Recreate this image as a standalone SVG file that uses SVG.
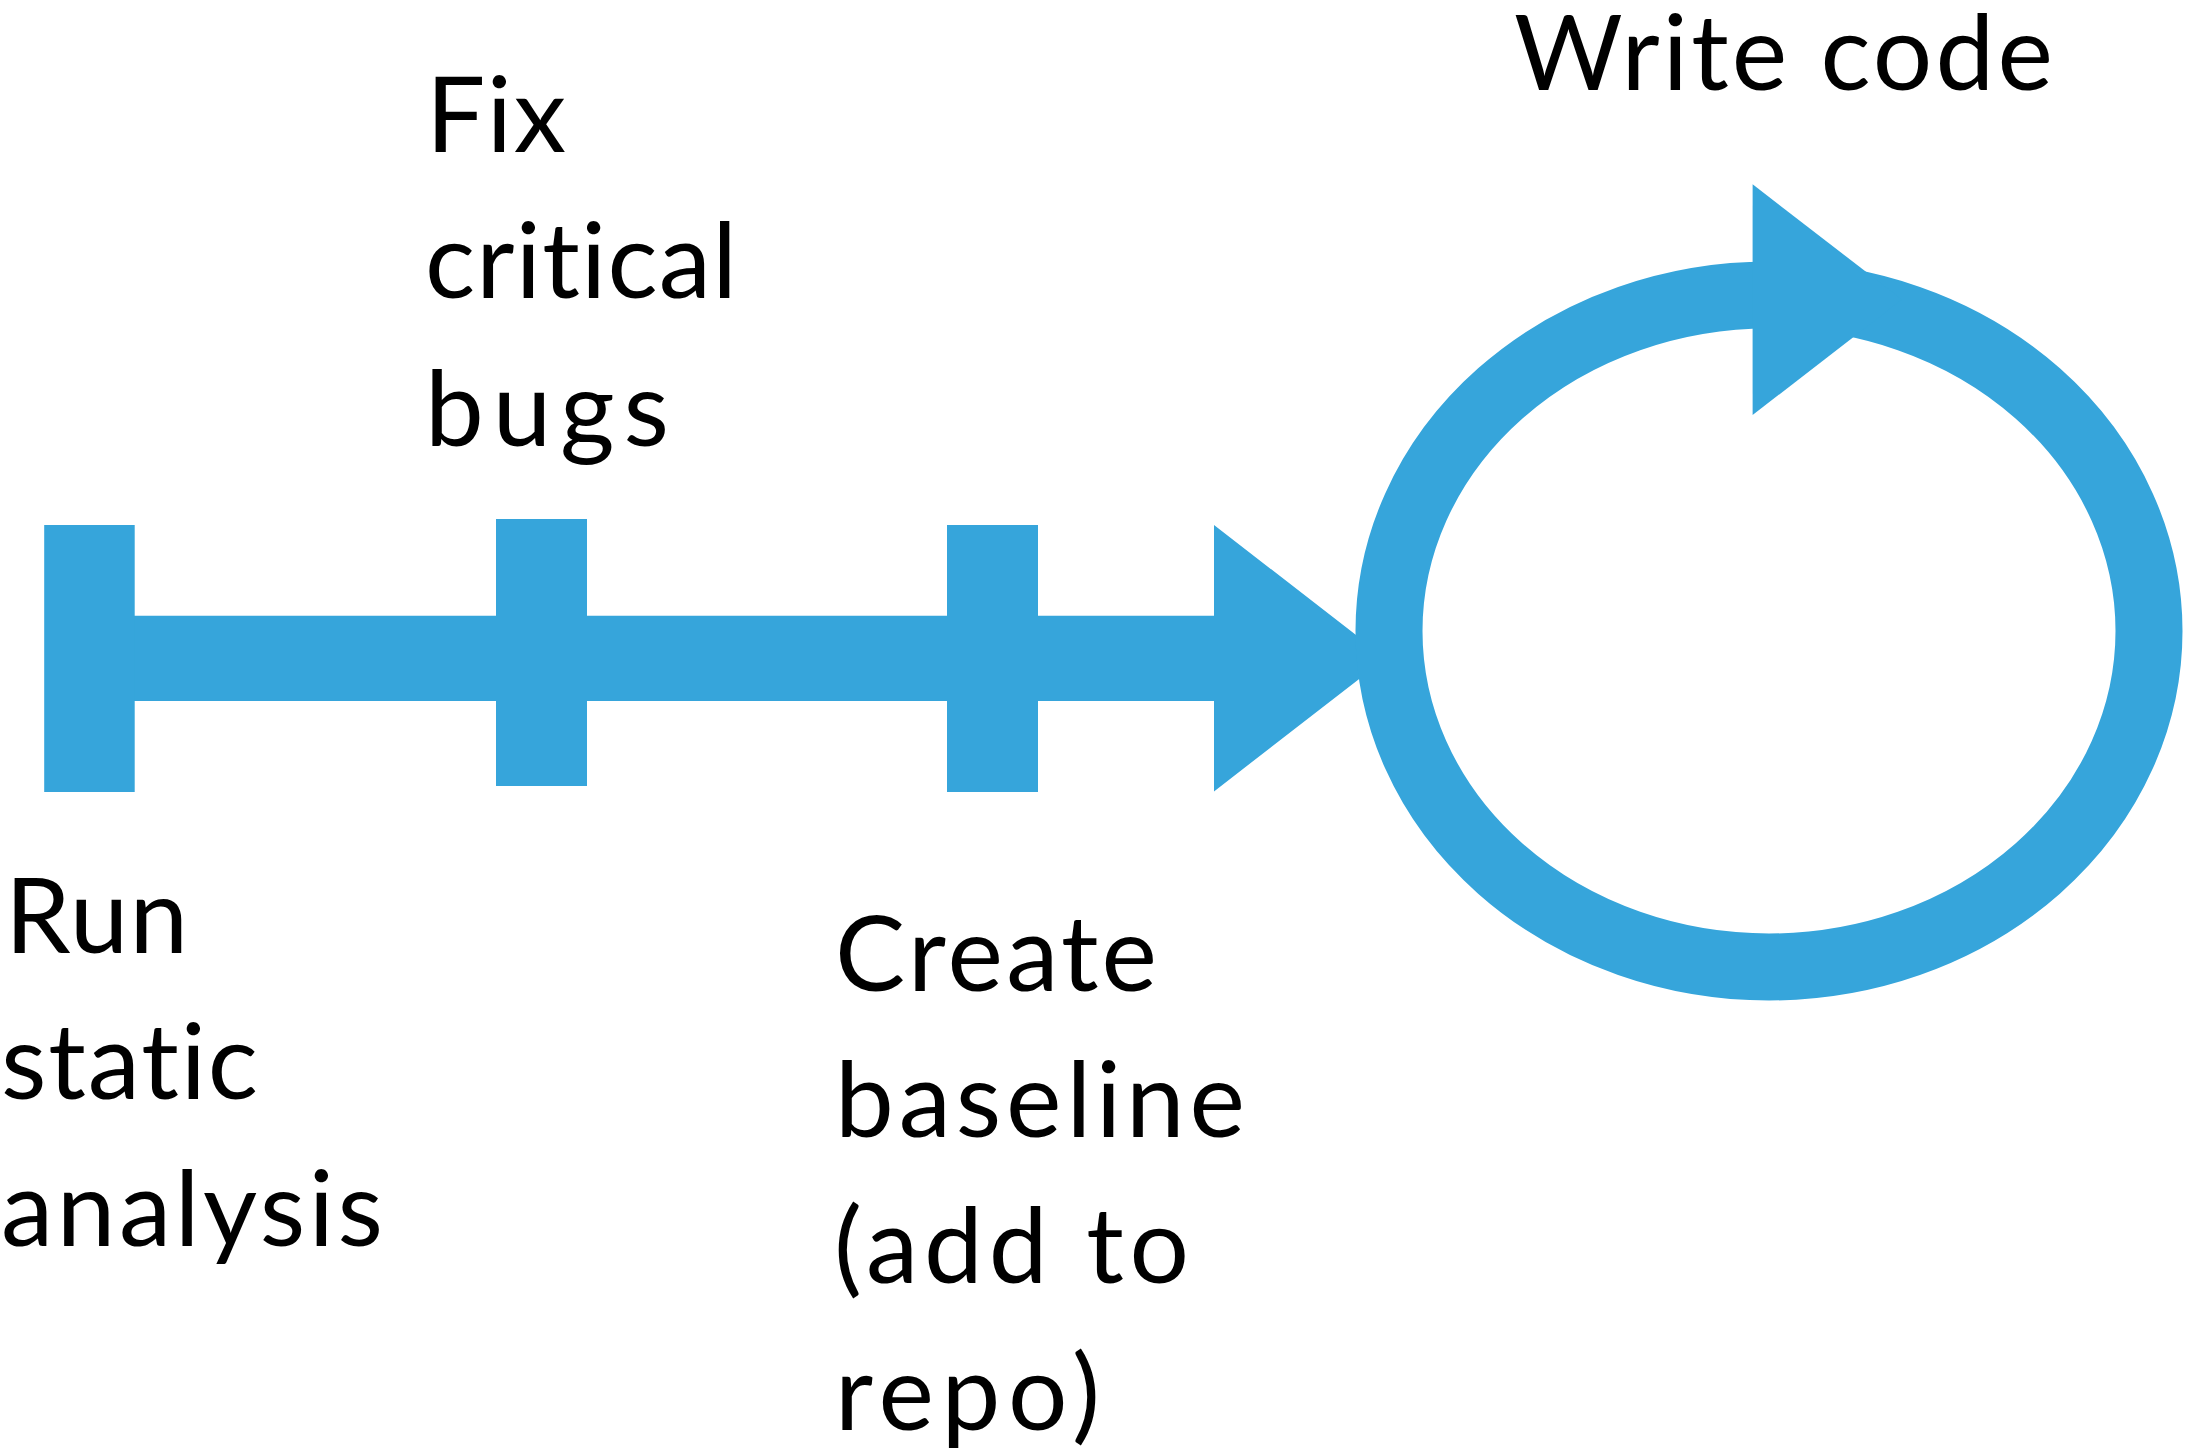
<svg xmlns="http://www.w3.org/2000/svg" width="2185" height="1455" viewBox="0 0 2185 1455">
  <style>
    .lbl { font-family: Lato, "Open Sans", "Liberation Sans", sans-serif; font-size: 105px; fill: #000000; font-variant-ligatures: none; font-feature-settings: "liga" 0, "clig" 0; }
    .blue { fill: #36A5DB; }
    .ring { fill: none; stroke: #36A5DB; stroke-width: 67; }
  </style>
  <rect width="2185" height="1455" fill="#ffffff"/>
  <g id="connectors">
    <polygon class="blue" points="100,615.7 1214,615.7 1214,525 1386,658.2 1214,791.4 1214,701 100,701"/>
    <ellipse class="ring" cx="1769" cy="631" rx="380" ry="336"/>
    <polygon class="blue" points="1752.6,184.3 1902,299.6 1752.6,415"/>
  </g>
  <g id="node-run">
    <rect class="blue" x="44.2" y="525" width="90.5" height="267"/>
    <text class="lbl" x="5" y="952.7" textLength="183" lengthAdjust="spacing">Run</text>
    <text class="lbl" x="1" y="1099" textLength="257" lengthAdjust="spacing">static</text>
    <text class="lbl" x="1" y="1246" textLength="382" lengthAdjust="spacing">analysis</text>
  </g>
  <g id="node-fix">
    <rect class="blue" x="496" y="519" width="91" height="267"/>
    <text class="lbl" x="426" y="151.7" textLength="140" lengthAdjust="spacing">Fix</text>
    <text class="lbl" x="425" y="298.3" textLength="312" lengthAdjust="spacing">critical</text>
    <text class="lbl" x="425" y="445.7" textLength="244" lengthAdjust="spacing">bugs</text>
  </g>
  <g id="node-baseline">
    <rect class="blue" x="947" y="525" width="91" height="267"/>
    <text class="lbl" x="835" y="990.9" textLength="322" lengthAdjust="spacing">Create</text>
    <text class="lbl" x="835" y="1136.8" textLength="410" lengthAdjust="spacing">baseline</text>
    <text class="lbl" x="834" y="1282.8" textLength="355" lengthAdjust="spacing">(add to</text>
    <text class="lbl" x="835" y="1429.5" textLength="265" lengthAdjust="spacing">repo)</text>
  </g>
  <g id="node-write">
    <text class="lbl" x="1514" y="90" textLength="539" lengthAdjust="spacing">Write code</text>
  </g>
</svg>
